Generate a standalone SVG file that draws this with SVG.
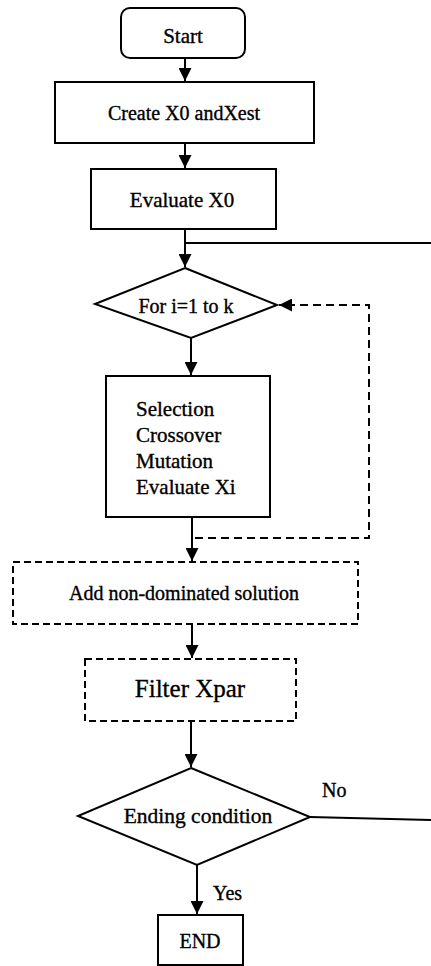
<svg xmlns="http://www.w3.org/2000/svg" width="431" height="966" viewBox="0 0 431 966">
<style>
.s{fill:#fff;stroke:#000;stroke-width:2}
.d{fill:#fff;stroke:#000;stroke-width:2;stroke-dasharray:7 4}
.t{font-family:"Liberation Serif","Times New Roman",serif;font-size:20px;fill:#000;stroke:#000;stroke-width:0.35}
.c{text-anchor:middle}
.l{fill:none;stroke:#000;stroke-width:2}
.ld{fill:none;stroke:#000;stroke-width:2;stroke-dasharray:8 5}
</style>
<defs>
<marker id="ah" viewBox="0 0 10 10" refX="10" refY="5" markerWidth="6.5" markerHeight="6.5" orient="auto" markerUnits="strokeWidth">
<path d="M0,0 L10,5 L0,10 z" fill="#000"/>
</marker>
</defs>
<g id="connectors">
<line class="l" x1="185" y1="58" x2="185" y2="81" marker-end="url(#ah)"/>
<line class="l" x1="185" y1="143" x2="185" y2="168" marker-end="url(#ah)"/>
<line class="l" x1="185" y1="229" x2="185" y2="267" marker-end="url(#ah)"/>
<line class="l" x1="185" y1="243" x2="431" y2="243"/>
<line class="l" x1="191" y1="338" x2="191" y2="375" marker-end="url(#ah)"/>
<line class="l" x1="192" y1="517" x2="192" y2="561" marker-end="url(#ah)"/>
<polyline class="ld" points="195,538 369,538 369,305 279,305" marker-end="url(#ah)"/>
<line class="l" x1="192" y1="624" x2="192" y2="658" marker-end="url(#ah)"/>
<line class="l" x1="191" y1="721" x2="191" y2="767" marker-end="url(#ah)"/>
<line class="l" x1="310" y1="817" x2="431" y2="820"/>
<line class="l" x1="197" y1="865" x2="197" y2="914" marker-end="url(#ah)"/>
</g>
<g id="start">
<rect class="s" x="121" y="8" width="124" height="50" rx="9"/>
<text class="t c" x="183" y="43" style="font-size:21px">Start</text>
</g>
<g id="create">
<rect class="s" x="55" y="82" width="259" height="61"/>
<text class="t c" x="184" y="120">Create X0 andXest</text>
</g>
<g id="evaluate">
<rect class="s" x="91" y="169" width="185" height="60"/>
<text class="t c" x="182" y="207" style="font-size:21px">Evaluate X0</text>
</g>
<g id="loop">
<polygon class="s" points="185,268 277,305 191,338 95,304"/>
<text class="t c" x="186" y="313">For i=1 to k</text>
</g>
<g id="ops">
<rect class="s" x="106" y="376" width="164" height="141"/>
<text class="t" x="136" y="416" style="font-size:21px">Selection</text>
<text class="t" x="136" y="442" style="font-size:21px">Crossover</text>
<text class="t" x="136" y="468" style="font-size:21px">Mutation</text>
<text class="t" x="136" y="494" style="font-size:21px">Evaluate Xi</text>
</g>
<g id="add">
<rect class="d" x="13" y="562" width="345" height="62"/>
<text class="t c" x="184" y="600">Add non-dominated solution</text>
</g>
<g id="filter">
<rect class="d" x="85" y="659" width="211" height="62"/>
<text class="t c" x="190" y="697" style="font-size:25px">Filter Xpar</text>
</g>
<g id="ending">
<polygon class="s" points="191,768 310,817 197,865 78,816"/>
<text class="t c" x="198" y="823" style="font-size:21.5px">Ending condition</text>
<text class="t" x="322" y="797">No</text>
<text class="t" x="213" y="900">Yes</text>
</g>
<g id="end">
<rect class="s" x="158" y="915" width="85" height="50"/>
<text class="t c" x="200" y="948">END</text>
</g>
</svg>
